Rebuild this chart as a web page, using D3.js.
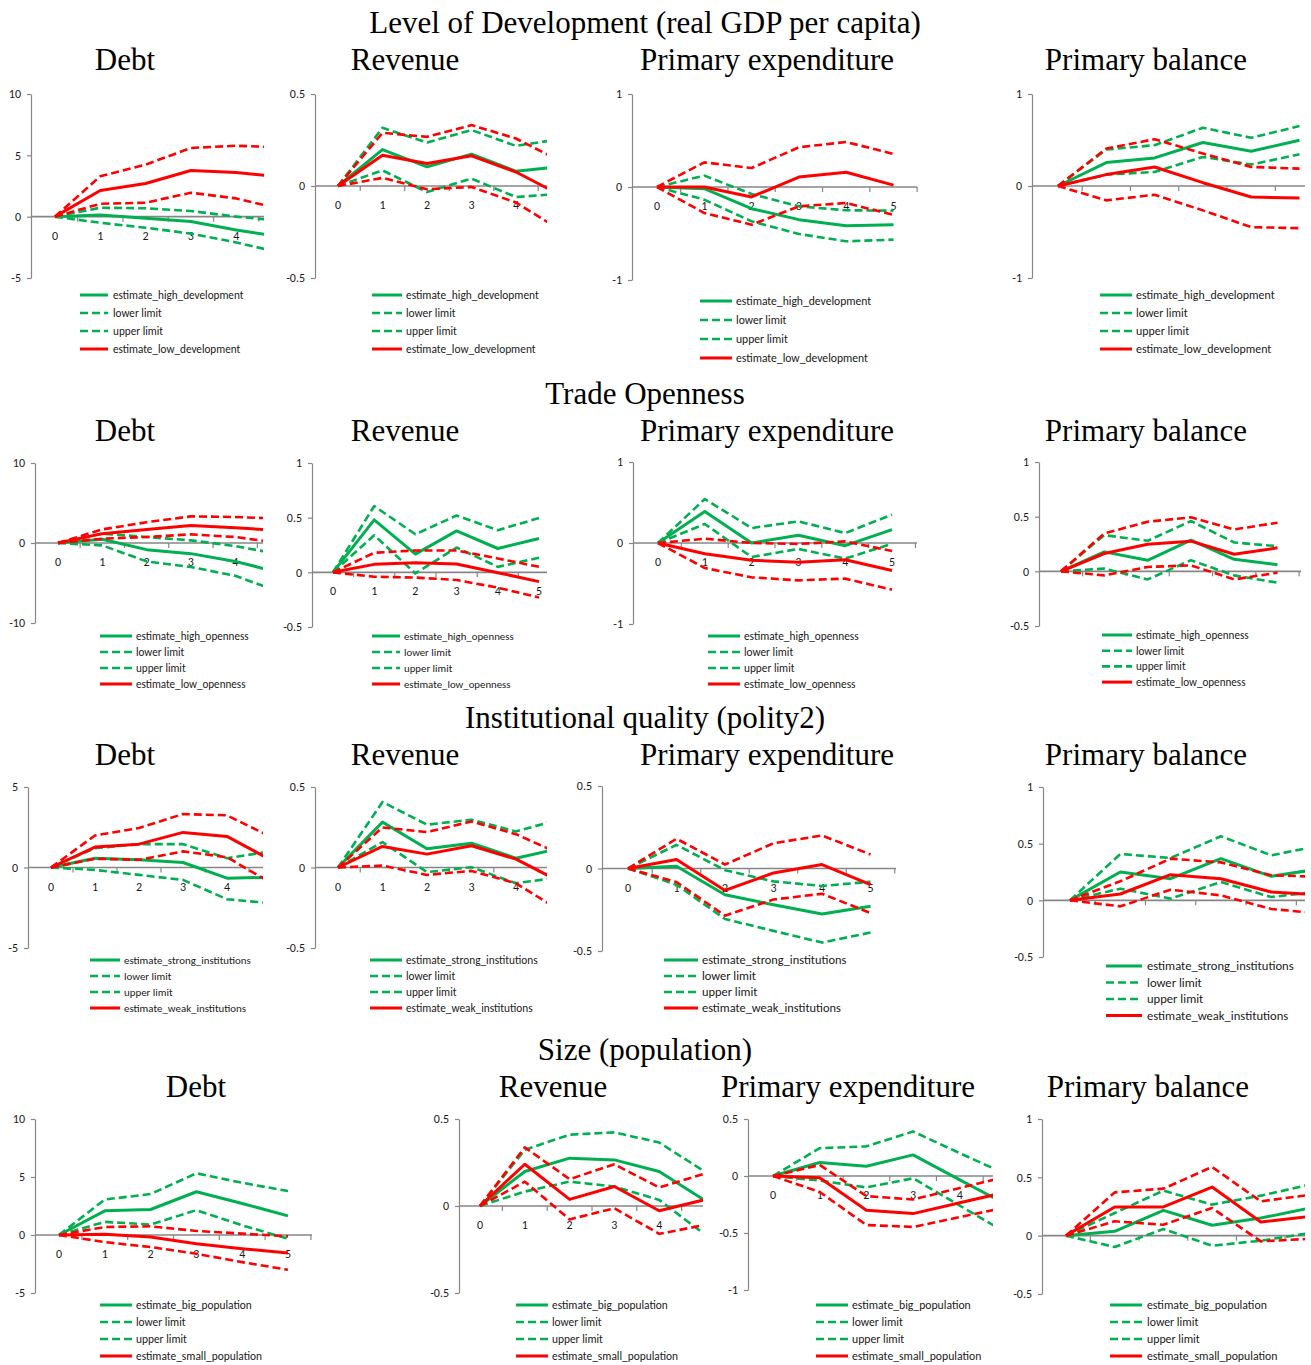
<!DOCTYPE html>
<html><head><meta charset="utf-8">
<script src="https://cdn.jsdelivr.net/npm/d3@7"></script>
<style>body{margin:0;background:#fff}svg{display:block}</style>
</head><body><svg id="c" width="1311" height="1365"></svg>
<script>
const categories = [0,1,2,3,4,5];
const rowTitles = ["Level of Development (real GDP per capita)","Trade Openness","Institutional quality (polity2)","Size (population)"];
const panelTitles = ["Debt","Revenue","Primary expenditure","Primary balance"];
const legendDev  = ["estimate_high_development","lower limit","upper limit","estimate_low_development"];
const legendOpen = ["estimate_high_openness","lower limit","upper limit","estimate_low_openness"];
const legendInst = ["estimate_strong_institutions","lower limit","upper limit","estimate_weak_institutions"];
const legendSize = ["estimate_big_population","lower limit","upper limit","estimate_small_population"];

// ---- data: g = first group (green), r = second group (red) ----
const devDebt = {gEst:[0,0.14,-0.13,-0.4,-1.08,-1.65], gLo:[0,-0.5,-0.9,-1.38,-2.1,-2.95], gUp:[0,0.73,0.68,0.46,0,-0.35],
  rEst:[0,2.13,2.7,3.76,3.6,3.23], rLo:[0,1.05,1.14,1.95,1.49,0.6], rUp:[0,3.3,4.24,5.6,5.78,5.65]};
const devRev = {gEst:[0,0.198,0.104,0.173,0.08,0.106], gLo:[0,0.085,-0.033,0.04,-0.06,-0.042], gUp:[0,0.316,0.236,0.304,0.218,0.255],
  rEst:[0,0.167,0.122,0.164,0.076,-0.05], rLo:[0,0.044,-0.018,-0.005,-0.09,-0.24], rUp:[0,0.289,0.267,0.331,0.258,0.135]};
const devExp = {gEst:[0,-0.018,-0.233,-0.351,-0.416,-0.405], gLo:[0,-0.136,-0.369,-0.505,-0.584,-0.566], gUp:[0,0.122,-0.075,-0.208,-0.25,-0.255],
  rEst:[0,0,-0.107,0.107,0.158,0.02], rLo:[0,-0.28,-0.405,-0.208,-0.172,-0.3], rUp:[0,0.265,0.204,0.427,0.484,0.355]};
const devBal = {gEst:[0,0.255,0.305,0.473,0.378,0.498], gLo:[0,0.124,0.153,0.316,0.233,0.345], gUp:[0,0.396,0.444,0.633,0.524,0.651],
  rEst:[0,0.124,0.207,0.036,-0.12,-0.131], rLo:[0,-0.156,-0.095,-0.265,-0.447,-0.458], rUp:[0,0.407,0.509,0.353,0.207,0.189]};

const opDebt = {gEst:[0,0.46,-0.83,-1.33,-2.3,-3.7], gLo:[0,-0.3,-2.3,-3.0,-4.1,-6.1], gUp:[0,1.17,0.75,0.33,-0.38,-1.4],
  rEst:[0,1.17,1.7,2.2,1.9,1.55], rLo:[0,0.54,0.75,1.08,0.75,0], rUp:[0,1.7,2.6,3.33,3.25,3.05]};
const opRev = {gEst:[0,0.48,0.167,0.379,0.218,0.309], gLo:[0,0.339,-0.01,0.227,0.05,0.133], gUp:[0,0.606,0.348,0.52,0.385,0.497],
  rEst:[0,0.073,0.088,0.076,-0.003,-0.085], rLo:[0,-0.04,-0.048,-0.07,-0.14,-0.23], rUp:[0,0.179,0.2,0.2,0.127,0.05]};
const opExp = {gEst:[0,0.39,0,0.095,-0.033,0.165], gLo:[0,0.235,-0.173,-0.074,-0.193,-0.01], gUp:[0,0.543,0.185,0.267,0.123,0.35],
  rEst:[0,-0.132,-0.214,-0.239,-0.206,-0.34], rLo:[0,-0.309,-0.424,-0.461,-0.44,-0.576], rUp:[0,0.053,0,-0.012,0.02,-0.1]};
const opBal = {gEst:[0,0.178,0.101,0.285,0.11,0.061], gLo:[0,0.025,-0.074,0.101,-0.037,-0.104], gUp:[0,0.331,0.279,0.46,0.264,0.23],
  rEst:[0,0.163,0.248,0.276,0.156,0.215], rLo:[0,-0.037,0.04,0.055,-0.074,-0.012], rUp:[0,0.347,0.454,0.494,0.383,0.445]};

const instDebt = {gEst:[0,0.58,0.48,0.31,-0.66,-0.61], gLo:[0,-0.15,-0.46,-0.77,-1.97,-2.22], gUp:[0,1.2,1.45,1.45,0.58,1.0],
  rEst:[0,1.27,1.45,2.18,1.93,0.46], rLo:[0,0.54,0.48,1.0,0.64,-0.96], rUp:[0,1.99,2.45,3.32,3.24,1.9]};
const instRev = {gEst:[0,0.282,0.116,0.151,0.058,0.12], gLo:[0,0.158,-0.029,0.002,-0.098,-0.06], gUp:[0,0.407,0.266,0.297,0.224,0.3],
  rEst:[0,0.131,0.083,0.135,0.052,-0.09], rLo:[0,0.012,-0.046,-0.021,-0.098,-0.27], rUp:[0,0.249,0.22,0.286,0.207,0.083]};
const instExp = {gEst:[0,0.014,-0.159,-0.22,-0.276,-0.229], gLo:[0,-0.098,-0.306,-0.378,-0.449,-0.388], gUp:[0,0.143,-0.01,-0.078,-0.106,-0.08],
  rEst:[0,0.055,-0.133,-0.027,0.024,-0.098], rLo:[0,-0.082,-0.286,-0.188,-0.153,-0.27], rUp:[0,0.18,0.024,0.153,0.2,0.085]};
const instBal = {gEst:[0,0.25,0.191,0.368,0.212,0.28], gLo:[0,0.103,0.015,0.162,0.029,0.08], gUp:[0,0.409,0.374,0.565,0.397,0.485],
  rEst:[0,0.056,0.226,0.191,0.074,0.047], rLo:[0,-0.053,0.094,0.044,-0.076,-0.117], rUp:[0,0.168,0.368,0.335,0.221,0.207]};

const sizeDebt = {gEst:[0,2.08,2.2,3.73,2.72,1.65], gLo:[0,1.13,0.9,2.14,0.84,-0.32], gUp:[0,3.06,3.53,5.32,4.5,3.79],
  rEst:[0,0.06,-0.17,-0.75,-1.18,-1.56], rLo:[0,-0.61,-1.04,-1.62,-2.34,-3.0], rUp:[0,0.69,0.75,0.35,0.12,-0.12]};
const sizeRev = {gEst:[0,0.198,0.275,0.265,0.198,0.035], gLo:[0,0.083,0.14,0.112,0.035,-0.16], gUp:[0,0.323,0.41,0.423,0.365,0.2],
  rEst:[0,0.24,0.038,0.112,-0.027,0.035], rLo:[0,0.14,-0.077,-0.013,-0.16,-0.11], rUp:[0,0.337,0.154,0.24,0.106,0.185]};
const sizeExp = {gEst:[0,0.118,0.085,0.185,-0.034,-0.25], gLo:[0,-0.04,-0.1,-0.02,-0.26,-0.5], gUp:[0,0.244,0.26,0.39,0.2,0.015],
  rEst:[0,-0.015,-0.3,-0.33,-0.235,-0.14], rLo:[0,-0.14,-0.43,-0.447,-0.36,-0.275], rUp:[0,0.097,-0.176,-0.206,-0.105,-0.006]};
const sizeBal = {gEst:[0,0.037,0.217,0.089,0.151,0.236], gLo:[0,-0.097,0.057,-0.086,-0.043,0.022], gUp:[0,0.194,0.386,0.266,0.343,0.437],
  rEst:[0,0.246,0.246,0.417,0.117,0.164], rLo:[0,0.123,0.094,0.237,-0.049,-0.027], rUp:[0,0.371,0.403,0.589,0.294,0.35]};

const yTicksDebtA = [-5,0,5,10], yTicksHalf = [-0.5,0,0.5], yTicksOne = [-1,0,1];

// ---- layout ----
const GREEN = "#00B050", RED = "#FF0000", AX = "#868686", TXT = "#1a1a1a";
const panels = [
 {d:devDebt, leg:legendDev, ax:31, c0:55, st:45.3, yT:94, yB:278, dom:[-5,10], t:yTicksDebtA, axR:264, lab:5, lg:[80,108,113,295,18,11.2]},
 {d:devRev, leg:legendDev, ax:315, c0:338, st:44.5, yT:94, yB:278, dom:[-0.5,0.5], t:yTicksHalf, axR:547, lab:5, lg:[372,402,406,295,18,11.4]},
 {d:devExp, leg:legendDev, ax:632, c0:657, st:47.3, yT:94, yB:280, dom:[-1,1], t:yTicksOne, axR:917, lab:6, lg:[700,732,736,301,19,11.6]},
 {d:devBal, leg:legendDev, ax:1032, c0:1058, st:48.3, yT:94, yB:278, dom:[-1,1], t:yTicksOne, axR:1305, lab:0, lg:[1100,1132,1136,295,18,11.9]},

 {d:opDebt, leg:legendOpen, ax:35, c0:58, st:44.3, yT:463, yB:623, dom:[-10,10], t:[-10,0,10], axR:263, lab:5, lg:[100,132,136,636,16,11.1]},
 {d:opRev, leg:legendOpen, ax:312, c0:333, st:41.2, yT:463, yB:627, dom:[-0.5,1], t:[-0.5,0,0.5,1], axR:547, lab:6, lg:[372,400,404,636,16,10.8]},
 {d:opExp, leg:legendOpen, ax:633, c0:658, st:46.8, yT:462, yB:624, dom:[-1,1], t:yTicksOne, axR:917, lab:6, lg:[708,740,744,636,16,11.3]},
 {d:opBal, leg:legendOpen, ax:1039, c0:1061, st:43.3, yT:462, yB:626, dom:[-0.5,1], t:[-0.5,0,0.5,1], axR:1301, lab:0, lg:[1102,1132,1136,635,15.7,11.1]},

 {d:instDebt, leg:legendInst, ax:28, c0:51, st:44, yT:787, yB:948, dom:[-5,5], t:[-5,0,5], axR:263, lab:5, lg:[90,120,124,960,16,10.9]},
 {d:instRev, leg:legendInst, ax:315, c0:338, st:44.5, yT:787, yB:948, dom:[-0.5,0.5], t:yTicksHalf, axR:547, lab:5, lg:[370,402,406,960,16,11.3]},
 {d:instExp, leg:legendInst, ax:602, c0:628, st:48.5, yT:786, yB:951, dom:[-0.5,0.5], t:yTicksHalf, axR:896, lab:6, lg:[664,698,702,960,16,12.4]},
 {d:instBal, leg:legendInst, ax:1043, c0:1070, st:50.3, yT:787, yB:957, dom:[-0.5,1], t:[-0.5,0,0.5,1], axR:1305, lab:0, lg:[1106,1142,1147,966,16.5,12.6]},

 {d:sizeDebt, leg:legendSize, ax:35, c0:59, st:45.8, yT:1119, yB:1293, dom:[-5,10], t:yTicksDebtA, axR:312, lab:6, lg:[100,132,136,1305,17,11.4]},
 {d:sizeRev, leg:legendSize, ax:459, c0:480, st:44.8, yT:1119, yB:1293, dom:[-0.5,0.5], t:yTicksHalf, axR:703, lab:5, lg:[516,548,552,1305,17,11.4]},
 {d:sizeExp, leg:legendSize, ax:748, c0:773, st:46.7, yT:1119, yB:1290, dom:[-1,0.5], t:[-1,-0.5,0,0.5], axR:993, lab:5, lg:[816,848,852,1305,17,11.7]},
 {d:sizeBal, leg:legendSize, ax:1042, c0:1066, st:48.7, yT:1119, yB:1294, dom:[-0.5,1], t:[-0.5,0,0.5,1], axR:1305, lab:0, lg:[1110,1142,1147,1305,17,11.8]}
];
const rowTitleY = [33, 404, 728, 1060];
const panelTitleY = [70, 441, 765, 1097];
const panelTitleX = [[125,405,767,1146],[125,405,767,1146],[125,405,767,1146],[196,553,848,1148]];

const svg = d3.select("#c");
const serif = "'Liberation Serif','Times New Roman',serif";
const sans = "Carlito,Calibri,'Liberation Sans',Arial,sans-serif";

rowTitles.forEach((t,r)=>{
  svg.append("text").attr("x",645).attr("y",rowTitleY[r]).attr("text-anchor","middle")
    .attr("font-family",serif).attr("font-size",31).attr("fill","#000").text(t);
  panelTitles.forEach((pt,c)=>{
    svg.append("text").attr("x",panelTitleX[r][c]).attr("y",panelTitleY[r]).attr("text-anchor","middle")
      .attr("font-family",serif).attr("font-size",31).attr("fill","#000").text(pt);
  });
});

const seriesDefs = [
  {k:"gEst", c:GREEN, dash:null, w:3},
  {k:"gLo", c:GREEN, dash:"8,4", w:2.6},
  {k:"gUp", c:GREEN, dash:"8,4", w:2.6},
  {k:"rEst", c:RED, dash:null, w:3},
  {k:"rLo", c:RED, dash:"8,4", w:2.6},
  {k:"rUp", c:RED, dash:"8,4", w:2.6}
];

panels.forEach((p,i)=>{
  const x = d3.scaleLinear().domain([0,5]).range([p.c0, p.c0+5*p.st]);
  const y = d3.scaleLinear().domain(p.dom).range([p.yB, p.yT]);
  const g = svg.append("g");
  const ya = g.append("g").attr("transform",`translate(${p.ax},0)`)
    .call(d3.axisLeft(y).tickValues(p.t).tickSize(4).tickSizeOuter(0).tickPadding(6).tickFormat(d=>String(d)));
  ya.select(".domain").attr("stroke",AX).attr("stroke-width",1.2);
  ya.selectAll(".tick line").attr("stroke",AX).attr("stroke-width",1.2);
  ya.selectAll(".tick text").attr("font-family",sans).attr("font-size",12).attr("fill",TXT);
  const y0 = y(0);
  g.append("line").attr("x1",p.ax).attr("x2",p.axR).attr("y1",y0).attr("y2",y0)
    .attr("stroke",AX).attr("stroke-width",1.6);
  const bounds = d3.range(0,6).map(k=>k+0.5).filter(v=>x(v)<=p.axR+0.5);
  g.selectAll(".xt").data(bounds).enter().append("line")
    .attr("x1",d=>x(d)).attr("x2",d=>x(d)).attr("y1",y0).attr("y2",y0+5)
    .attr("stroke",AX).attr("stroke-width",1.2);
  g.selectAll(".xl").data(categories.slice(0,p.lab)).enter().append("text")
    .attr("x",d=>x(d)).attr("y",y0+23).attr("text-anchor","middle")
    .attr("font-family",sans).attr("font-size",12).attr("fill",TXT).text(d=>String(d));
  const cid = "clip"+i;
  svg.append("clipPath").attr("id",cid).append("rect")
    .attr("x",p.ax-30).attr("y",0).attr("width",p.axR-p.ax+30).attr("height",1365);
  const line = d3.line().x((d,j)=>x(categories[j])).y(d=>y(d));
  const lg = g.append("g").attr("clip-path",`url(#${cid})`);
  seriesDefs.forEach(s=>{
    lg.append("path").attr("d",line(p.d[s.k])).attr("fill","none")
      .attr("stroke",s.c).attr("stroke-width",s.w)
      .attr("stroke-dasharray",s.dash).attr("stroke-linejoin","round");
  });
  const [lx1,lx2,tx,ly0,dy,fs] = p.lg;
  p.leg.forEach((lab,j)=>{
    const yy = ly0 + j*dy;
    const s = seriesDefs[j];
    g.append("line").attr("x1",lx1).attr("x2",lx2).attr("y1",yy).attr("y2",yy)
      .attr("stroke",s.c).attr("stroke-width",s.w).attr("stroke-dasharray",s.dash);
    g.append("text").attr("x",tx).attr("y",yy).attr("dy","0.35em")
      .attr("font-family",sans).attr("font-size",fs).attr("fill",TXT).text(lab);
  });
});
</script></body></html>
